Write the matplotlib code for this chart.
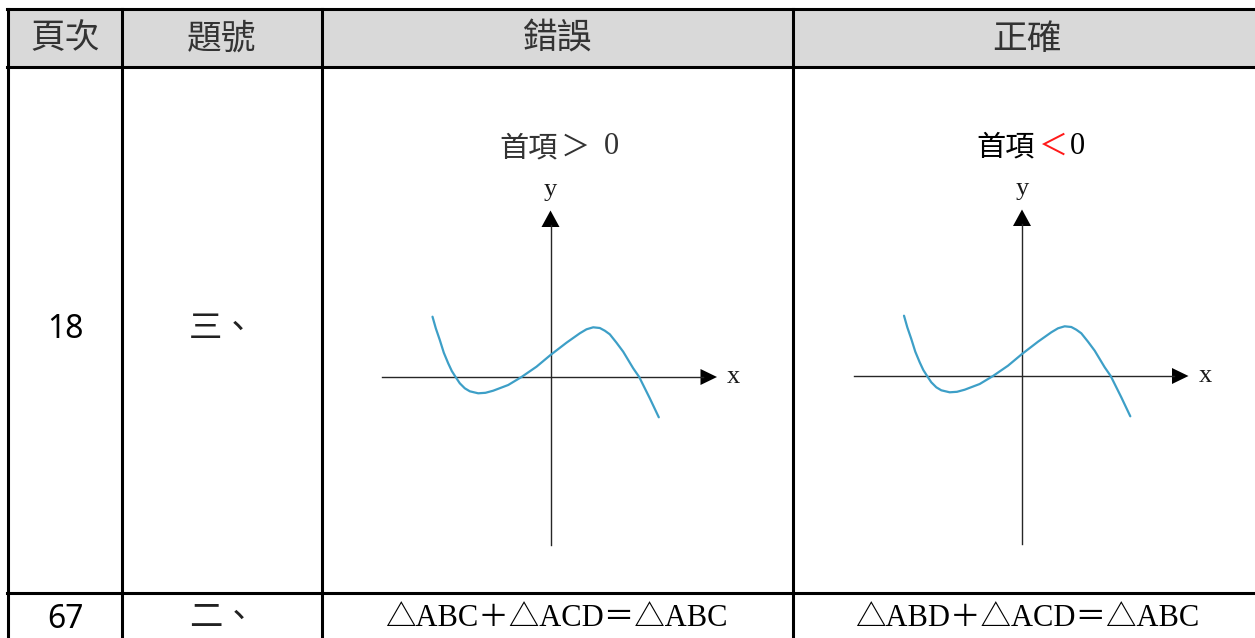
#!/usr/bin/env python3
# -*- coding: utf-8 -*-

import matplotlib.pyplot as plt

# DATA
header_labels = ["頁次", "題號", "錯誤", "正確"]
row1_page = "18"
row1_item = "三、"
row2_page = "67"
row2_item = "二、"
row2_wrong = "△ABC＋△ACD＝△ABC"
row2_right = "△ABD＋△ACD＝△ABC"

# cubic-like curve (units: px from the graph origin, y up)
curve_x = [-118, -114.7, -110.7, -106.7, -102.3, -98.7, -94.7, -90.7, -85.7, -80.7,
           -72.3, -65, -57.3, -42.3, -29, -14, 0, 16, 29.3, 36, 42.7, 49.3,
           54.3, 59.3, 66, 72.7, 77.7, 82.7, 88.7, 99.3, 108.3]
curve_y = [60.3, 48.7, 37, 24.3, 13.7, 6, -0.3, -6.3, -11.3, -14.3,
           -16.3, -15.8, -13.7, -8, 0, 10.3, 22, 34.3, 43.7, 47.7, 49.7, 49,
           46.3, 42.7, 34.3, 25.3, 17, 8.7, 0, -21.3, -40.3]

W, H = 1255, 638
CJK = ["Noto Sans CJK TC", "DejaVu Sans"]
SERIF = ["Liberation Serif", "Noto Sans CJK TC", "DejaVu Sans"]
BORDER_LW = 2.2


def draw_graph(fig, origin, sign, sign_color, title_color, gaps):
    """Draw one small sketch of the curve with arrowed axes.

    Args:
        fig (Figure): target figure
        origin (tuple): pixel position of the axes crossing
        sign (str): comparison sign in the title
        sign_color (str): colour of the sign
        title_color (str): colour of the rest of the title
        gaps (tuple): title offsets (right of 首項, centre of sign, left of 0)
    """
    ox, oy = origin
    x0, x1, y0, y1 = -175, 205, -175, 250
    ax = fig.add_axes([(ox + x0) / W, 1 - (oy - y0) / H, (x1 - x0) / W, (y1 - y0) / H])
    ax.set_xlim(x0, x1)
    ax.set_ylim(y0, y1)
    ax.axis("off")

    axis_col = "#262626"
    ax.plot([-168.5, 152], [0, 0], color=axis_col, lw=1.0)
    ax.fill([150, 166.5, 150], [8, 0, -8], color="black", lw=0)
    ax.plot([0, 0], [-168, 152], color=axis_col, lw=1.0)
    ax.fill([-9, 0, 9], [150, 166.5, 150], color="black", lw=0)

    ax.plot(curve_x, curve_y, color="#3d9fc7", lw=1.6, solid_joinstyle="round",
            solid_capstyle="round")

    ax.text(183, 0, "x", family=SERIF, fontsize=19, ha="center", va="center",
            color="#1a1a1a")
    ax.text(0, 187, "y", family=SERIF, fontsize=19, ha="center", va="center",
            color="#1a1a1a")

    t_y = 229
    ax.text(gaps[0], t_y, "首項", family=CJK, fontsize=21, ha="right", va="center",
            color=title_color)
    ax.text(gaps[1], t_y, "＜" if sign == "<" else "＞", family=CJK, fontsize=21,
            ha="center", va="center", color=sign_color)
    ax.text(gaps[2], t_y + 1, "0", family=SERIF, fontsize=22, ha="left", va="center",
            color=title_color)


fig = plt.figure(figsize=(W / 100, H / 100), dpi=100)
ax = fig.add_axes([0, 0, 1, 1])
ax.set_xlim(0, W)
ax.set_ylim(H, 0)
ax.axis("off")

col_edges = [7.5, 122, 322, 793, 1258]
row_edges = [9, 67, 592.5, 645]

# header background
ax.fill_between([col_edges[0], col_edges[-1]], row_edges[0], row_edges[1],
                color="#d9d9d9", lw=0)

# grid lines
for yv in row_edges[:3]:
    ax.plot([col_edges[0] - 1, col_edges[-1]], [yv, yv], color="black",
            lw=BORDER_LW, solid_capstyle="projecting")
for xv in col_edges[:4]:
    ax.plot([xv, xv], [row_edges[0], row_edges[-1]], color="black",
            lw=BORDER_LW, solid_capstyle="projecting")

centers = [(col_edges[i] + col_edges[i + 1]) / 2 for i in range(4)]
centers[3] = 1027

# header text
for cx, lab in zip(centers, header_labels):
    ax.text(cx, 39, lab, family=CJK, fontsize=25, ha="center", va="center",
            color="#333333")

# row with graphs
ax.text(centers[0] + 1, 330, row1_page, family=["Noto Sans", "DejaVu Sans"],
        fontsize=23, ha="center", va="center", color="black")
ax.text(centers[1], 328, row1_item, family=CJK, fontsize=24, ha="center",
        va="center", color="#222222")

# last row
ax.text(centers[0] + 1, 620, row2_page, family=["Noto Sans", "DejaVu Sans"],
        fontsize=23, ha="center", va="center", color="black")
ax.text(centers[1], 618, row2_item, family=CJK, fontsize=24, ha="center",
        va="center", color="#222222")
ax.text(556, 619, row2_wrong, family=SERIF, fontsize=22, ha="center",
        va="center", color="black")
ax.text(1027, 619, row2_right, family=SERIF, fontsize=22, ha="center",
        va="center", color="black")

draw_graph(fig, (550.5, 377), ">", "#333333", "#333333", (7, 25, 53))
draw_graph(fig, (1022, 376), "<", "#ff1a1a", "black", (13, 31, 48))

fig.savefig("out.png", dpi=100)
plt.close(fig)
